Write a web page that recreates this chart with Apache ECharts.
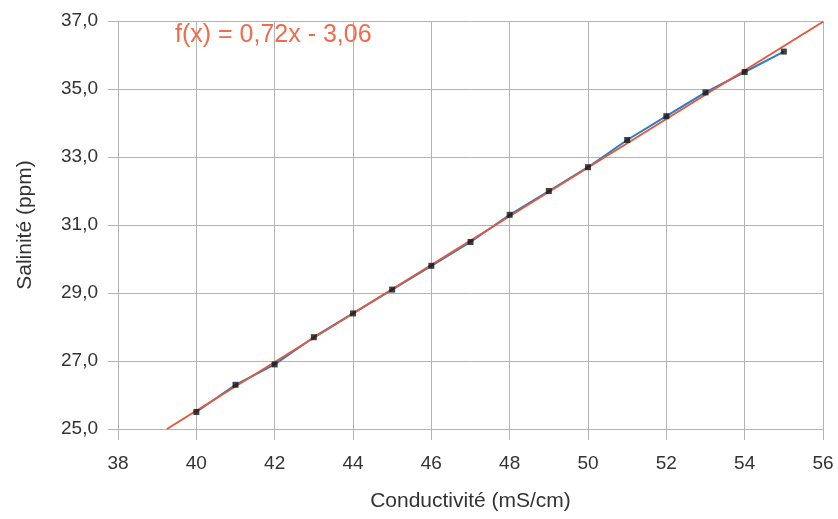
<!DOCTYPE html>
<html>
<head>
<meta charset="utf-8">
<script src="https://cdn.jsdelivr.net/npm/echarts@6/dist/echarts.min.js"></script>
<style>
html,body{margin:0;padding:0;background:#fff;}
#chart{width:838px;height:519px;}
</style>
</head>
<body>
<div id="chart"></div>
<script>
// ---- data ----
var conductivity = [40, 41, 42, 43, 44, 45, 46, 47, 48, 49, 50, 51, 52, 53, 54, 55];
var salinity = [25.5, 26.3, 26.9, 27.7, 28.4, 29.1, 29.8, 30.5, 31.3, 32.0, 32.7, 33.5, 34.2, 34.9, 35.5, 36.1];
var xTicks = [38, 40, 42, 44, 46, 48, 50, 52, 54, 56];
var yTicks = [25, 27, 29, 31, 33, 35, 37];
var equationText = 'f(x) = 0,72x - 3,06';
var xTitle = 'Conductivité (mS/cm)';
var yTitle = 'Salinité (ppm)';

// ---- linear regression (trend line) ----
var n = conductivity.length, sx = 0, sy = 0;
for (var i = 0; i < n; i++) { sx += conductivity[i]; sy += salinity[i]; }
var mx = sx / n, my = sy / n, sxx = 0, sxy = 0;
for (var j = 0; j < n; j++) {
  sxx += (conductivity[j] - mx) * (conductivity[j] - mx);
  sxy += (conductivity[j] - mx) * (salinity[j] - my);
}
var slope = sxy / sxx, intercept = my - slope * mx;
var xMin = xTicks[0], xMax = xTicks[xTicks.length - 1];
var yMin = yTicks[0], yMax = yTicks[yTicks.length - 1];
var tx0 = Math.max(xMin, (yMin - intercept) / slope);
var tx1 = Math.min(xMax, (yMax - intercept) / slope);
var trendData = [[tx0, slope * tx0 + intercept], [tx1, slope * tx1 + intercept]];

var pts = conductivity.map(function (x, k) { return [x, salinity[k]]; });

var font = 'Liberation Sans, Arial, sans-serif';
var gridColor = '#b3b3b3';

var chart = echarts.init(document.getElementById('chart'), null, {renderer: 'canvas'});
chart.setOption({
  animation: false,
  backgroundColor: '#ffffff',
  title: {
    text: equationText,
    left: 170, top: 18,
    textStyle: {color: '#f06b4c', fontFamily: font, fontSize: 25, fontWeight: 'normal'}
  },
  grid: {left: 118, right: 15, top: 21, bottom: 90, containLabel: false},
  xAxis: {
    type: 'value', min: xMin, max: xMax, interval: 2,
    name: xTitle, nameLocation: 'middle', nameGap: 62,
    nameTextStyle: {color: '#333', fontFamily: font, fontSize: 21},
    axisLine: {show: true, lineStyle: {color: gridColor, width: 1}},
    axisTick: {show: true, length: 11, lineStyle: {color: gridColor}},
    axisLabel: {color: '#333', fontFamily: font, fontSize: 19, margin: 25},
    splitLine: {show: true, lineStyle: {color: gridColor, width: 1}}
  },
  yAxis: {
    type: 'value', min: yMin, max: yMax, interval: 2,
    name: yTitle, nameLocation: 'middle', nameGap: 82, nameRotate: 90,
    nameTextStyle: {color: '#333', fontFamily: font, fontSize: 21},
    axisLine: {show: true, lineStyle: {color: gridColor, width: 1}},
    axisTick: {show: true, length: 10, lineStyle: {color: gridColor}},
    axisLabel: {color: '#333', fontFamily: font, fontSize: 19, margin: 20,
      formatter: function (v) { return v.toFixed(1).replace('.', ','); }},
    splitLine: {show: true, lineStyle: {color: gridColor, width: 1}}
  },
  series: [
    {
      type: 'line', data: pts, showSymbol: false, symbol: 'none',
      lineStyle: {color: '#2a7cc6', width: 2}, z: 2
    },
    {
      type: 'line', data: trendData, showSymbol: false, symbol: 'none',
      lineStyle: {color: '#e4583c', width: 2}, z: 3
    },
    {
      type: 'scatter', data: pts, symbol: 'rect', symbolSize: 6,
      itemStyle: {color: '#111111'}, z: 4
    }
  ]
});
</script>
</body>
</html>
